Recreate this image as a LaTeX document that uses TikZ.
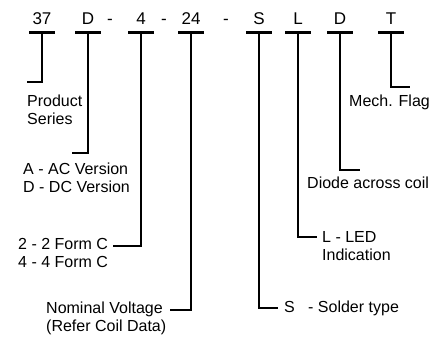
\documentclass[tikz,border=0pt]{standalone}
\usepackage{fontspec}
\setmainfont{Liberation Sans}
\usepackage{tikz}
\usetikzlibrary{positioning}

\begin{document}
\begin{tikzpicture}[x=1pt, y=-1pt,
          code/.style={anchor=base, inner sep=0pt, minimum width=25pt,
                       text height=12pt, text depth=8pt,
                       font=\fontsize{17}{20}\selectfont},
          lbl/.style={anchor=base west, inner sep=0pt, align=left,
                      font=\fontsize{16}{18}\selectfont},
          bar/.style={line width=3.2pt},
          stem/.style={line width=2.8pt, miter limit=10}
        ]
        \useasboundingbox (0,0) rectangle (441,338);

        % Part number
        \node[code] (c37) at (42, 24)  {37};
        \node[code] (cD)  at (88, 24)  {D};
        \node[code] (c4)  at (141, 24) {4};
        \node[code] (c24) at (191, 24) {24};
        \node[code] (cS)  at (259, 24) {S};
        \node[code] (cL)  at (298, 24) {L};
        \node[code] (cDi) at (340, 24) {D};
        \node[code] (cT)  at (391, 24) {T};
        \node[code, minimum width=0pt] (h1) at (110, 24) {-};
        \node[code, minimum width=0pt] (h2) at (164, 24) {-};
        \node[code, minimum width=0pt] (h3) at (226, 24) {-};

        % Bars under the codes
        \foreach \c in {c37, cD, c4, c24, cS, cL, cDi, cT}
          \draw[bar] (\c.south west) -- (\c.south east);

        % Descriptions (base = last line)
        \node[lbl] (series) at (27, 124)  {Product\\Series};
        \node[lbl] (version) at (23, 192) {A - AC Version\\D - DC Version};
        \node[lbl] (form) at (18, 267)    {2 - 2 Form C\\4 - 4 Form C};
        \node[lbl] (volt) at (46, 331)    {Nominal Voltage\\(Refer Coil Data)};
        \node[lbl] (solder) at (284, 312) {S~~~- Solder type};
        \node[lbl] (led) at (322, 260)    {L - LED\\Indication};
        \node[lbl] (diode) at (307, 188)  {Diode across coil};
        \node[lbl] (flag) at (349, 106)   {Mech. Flag};

        % Leader ends
        \coordinate (e37) at (27, 82);
        \coordinate (eD)  at (72, 153);
        \coordinate (e4)  at (113, 246);
        \coordinate (e24) at (170, 310);
        \coordinate (eS)  at (278, 308);
        \coordinate (eL)  at (317, 237);
        \coordinate (eDi) at (360, 170);
        \coordinate (eT)  at (410, 87);

        % Leaders
        \draw[stem] (c37.south) |- (e37);
        \draw[stem] (cD.south)  |- (eD);
        \draw[stem] (c4.south)  |- (e4);
        \draw[stem] (c24.south) |- (e24);
        \draw[stem] (cS.south)  |- (eS);
        \draw[stem] (cL.south)  |- (eL);
        \draw[stem] (cDi.south) |- (eDi);
        \draw[stem] (cT.south)  |- (eT);
      \end{tikzpicture}
\end{document}
